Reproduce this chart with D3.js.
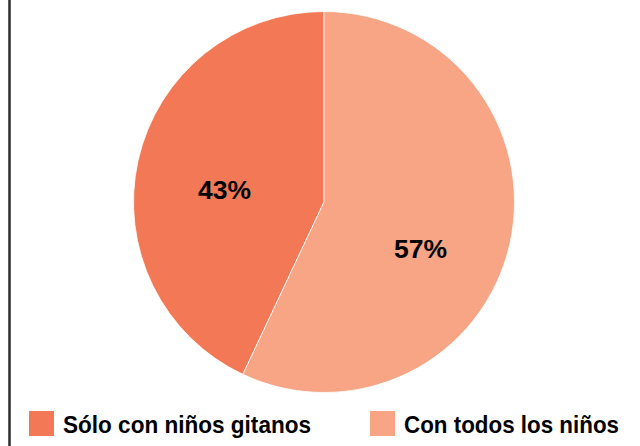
<!DOCTYPE html>
<html>
<head>
<meta charset="utf-8">
<script src="https://cdn.jsdelivr.net/npm/d3@7"></script>
<style>
  html, body { margin: 0; padding: 0; background: #fff; }
  svg { display: block; }
  text { font-family: "Liberation Sans", Arial, Helvetica, sans-serif; font-weight: bold; fill: #000; }
</style>
</head>
<body>
<svg id="chart" width="640" height="446"></svg>
<script>
// Share of children by who they play with
const categories = ["Sólo con niños gitanos", "Con todos los niños"];
const shares = [43, 57];
const colors = ["#F37956", "#F7A585"];

const W = 640, H = 446;
const cx = 324, cy = 202, R = 190.5;

const svg = d3.select("#chart");

// Left frame rule
svg.append("line")
  .attr("x1", 9.5).attr("x2", 9.5)
  .attr("y1", 0).attr("y2", H)
  .attr("stroke", "#2b2b2b")
  .attr("stroke-width", 2.5);

// Slices: the second category starts at 12 o'clock and runs clockwise
const total = d3.sum(shares);
const offset = -2 * Math.PI * shares[0] / total;
const pie = d3.pie()
  .sort(null)
  .value(d => d.value)
  .startAngle(offset)
  .endAngle(offset + 2 * Math.PI);

const data = categories.map((c, i) => ({ name: c, value: shares[i], color: colors[i] }));
const arcs = pie(data);

const arc = d3.arc().innerRadius(0).outerRadius(R);
const labelArc = d3.arc().innerRadius(0).outerRadius(2 * 102);

const g = svg.append("g").attr("transform", `translate(${cx},${cy})`);

g.selectAll("path.slice")
  .data(arcs)
  .join("path")
  .attr("class", "slice")
  .attr("d", arc)
  .attr("fill", d => d.data.color)
  .attr("stroke", "#ffffff")
  .attr("stroke-width", 0.8)
  .attr("stroke-linejoin", "round");

// Percent labels placed near each slice's centroid
const labelNudge = [[0, 10], [-3, 25]];
g.selectAll("text.pct")
  .data(arcs)
  .join("text")
  .attr("class", "pct")
  .attr("text-anchor", "middle")
  .attr("dominant-baseline", "central")
  .attr("font-size", 26)
  .attr("textLength", 53)
  .attr("lengthAdjust", "spacingAndGlyphs")
  .attr("transform", (d, i) => {
    const [x, y] = labelArc.centroid(d);
    return `translate(${x + labelNudge[i][0]},${y + labelNudge[i][1]})`;
  })
  .text(d => d.data.value + "%");

// Legend
const legendX = [29, 370];
const legendTextWidth = [248, 215];
const legend = svg.append("g").selectAll("g")
  .data(data)
  .join("g")
  .attr("transform", (d, i) => `translate(${legendX[i]},411)`);

legend.append("rect")
  .attr("width", 25).attr("height", 25)
  .attr("fill", d => d.color);

legend.append("text")
  .attr("x", 34)
  .attr("y", 22)
  .attr("font-size", 24)
  .attr("textLength", (d, i) => legendTextWidth[i])
  .attr("lengthAdjust", "spacingAndGlyphs")
  .text(d => d.name);
</script>
</body>
</html>
